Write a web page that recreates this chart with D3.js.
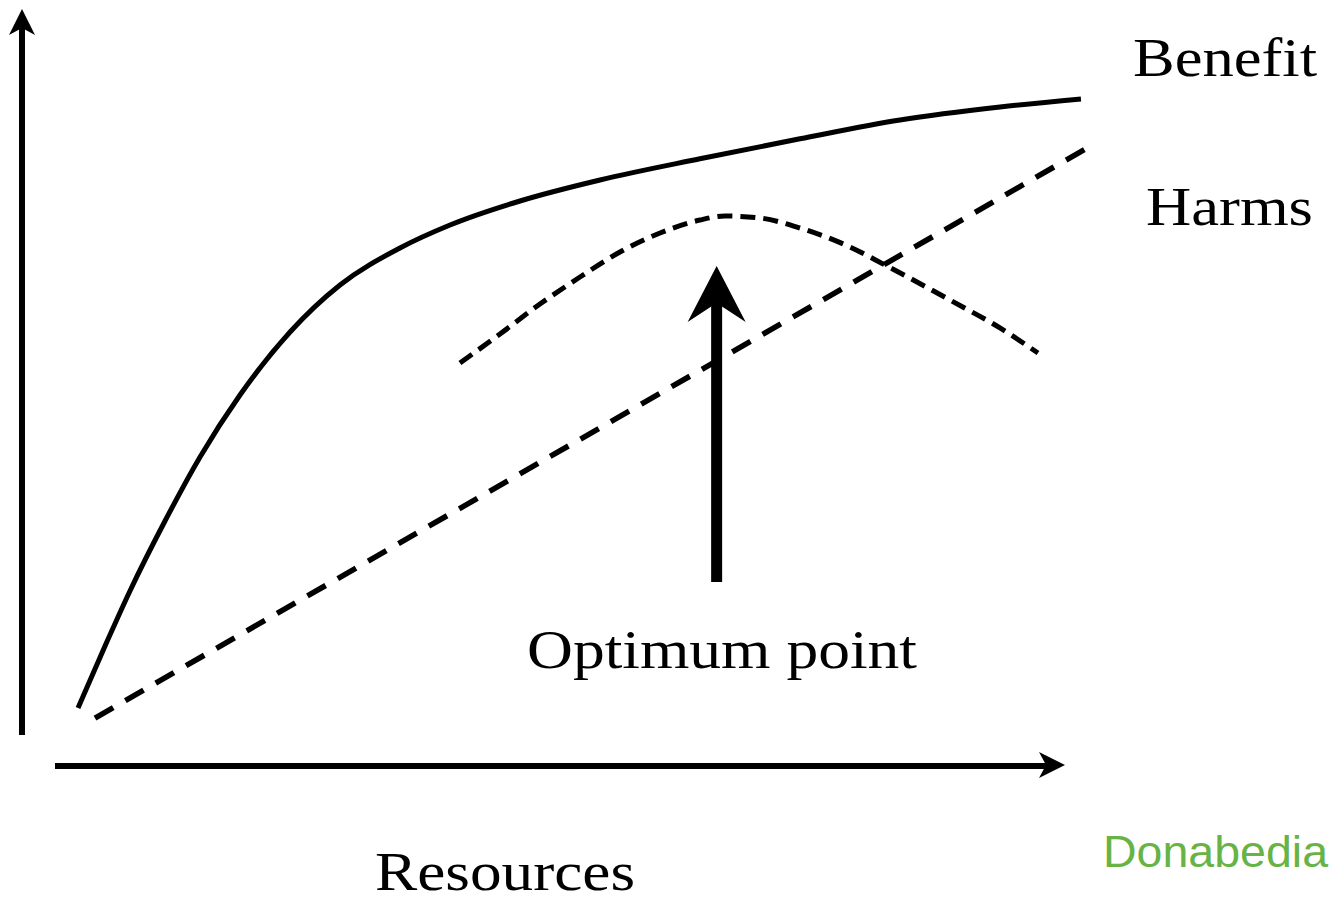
<!DOCTYPE html>
<html>
<head>
<meta charset="utf-8">
<script src="https://cdn.jsdelivr.net/npm/d3@7"></script>
<style>
  html, body { margin: 0; padding: 0; background: #fff; }
  svg { display: block; }
</style>
</head>
<body>
<svg id="chart" width="1332" height="903"></svg>
<script>
// ---- data (x: resources 0-100, y: value 0-100) ----
const benefitX = [5.37, 7.96, 10.35, 13.71, 17.07, 20.90, 25.70, 30.49, 36.24, 41.04, 47.75, 55.42, 65.00, 74.59, 84.18, 93.77, 101.53];
const benefitY = [7.78, 15.96, 23.22, 32.45, 40.90, 49.08, 57.39, 63.59, 68.47, 71.50, 74.67, 77.44, 80.24, 82.88, 85.36, 87.07, 88.13];
const harmsX = [7.0, 102.11];
const harmsY = [6.46, 81.66];
const netX = [41.99, 45.83, 49.66, 53.50, 57.33, 61.17, 65.00, 67.40, 70.76, 74.59, 79.39, 82.74, 88.97, 93.77, 97.41];
const netY = [53.30, 57.12, 61.08, 64.64, 67.94, 70.45, 72.16, 72.69, 72.43, 71.11, 68.60, 66.23, 61.61, 57.92, 54.62];
const optimumX = [66.6];
const optimumY = [24.41, 66.09];
const labels = ["Benefit", "Harms", "Optimum point", "Resources"];
const watermark = "Donabedia";

const svg = d3.select("#chart");
const x = d3.scaleLinear().domain([0, 100]).range([22, 1065]);
const y = d3.scaleLinear().domain([0, 100]).range([767, 9]);

const smooth = d3.line().x(d => x(d[0])).y(d => y(d[1])).curve(d3.curveMonotoneX);

// axes
const x0 = x(0), y0 = y(0);
svg.append("line").attr("x1", x0).attr("x2", x0).attr("y1", 735).attr("y2", y(100) + 18)
  .attr("stroke", "#000").attr("stroke-width", 6);
svg.append("path")
  .attr("d", `M${x0},${y(100)} L${x0 + 13},${y(100) + 26} L${x0},${y(100) + 19} L${x0 - 13},${y(100) + 26} Z`)
  .attr("fill", "#000");
svg.append("line").attr("x1", 55).attr("x2", x(100) - 18).attr("y1", y0 - 1).attr("y2", y0 - 1)
  .attr("stroke", "#000").attr("stroke-width", 6);
svg.append("path")
  .attr("d", `M${x(100)},${y0 - 2} L${x(100) - 26},${y0 - 15} L${x(100) - 19},${y0 - 2} L${x(100) - 26},${y0 + 11} Z`)
  .attr("fill", "#000");

// benefit curve
svg.append("path").datum(benefitX.map((v, i) => [v, benefitY[i]]))
  .attr("d", smooth).attr("fill", "none").attr("stroke", "#000").attr("stroke-width", 5);

// harms line
svg.append("path").datum(harmsX.map((v, i) => [v, harmsY[i]]))
  .attr("d", smooth).attr("fill", "none").attr("stroke", "#000").attr("stroke-width", 5.5)
  .attr("stroke-dasharray", "21,14");

// net curve
svg.append("path").datum(netX.map((v, i) => [v, netY[i]]))
  .attr("d", smooth).attr("fill", "none").attr("stroke", "#000").attr("stroke-width", 5)
  .attr("stroke-dasharray", "15,8");

// optimum arrow
const ax = x(optimumX[0]), ayB = y(optimumY[0]), ayT = y(optimumY[1]);
svg.append("line").attr("x1", ax).attr("x2", ax).attr("y1", ayB).attr("y2", ayT + 36)
  .attr("stroke", "#000").attr("stroke-width", 11);
svg.append("path")
  .attr("d", `M${ax},${ayT} L${ax + 29},${ayT + 56} L${ax},${ayT + 37} L${ax - 29},${ayT + 56} Z`)
  .attr("fill", "#000");

// labels
const serif = "'Liberation Serif', 'Times New Roman', serif";
const textSpecs = [
  { t: labels[0], x: 1133, y: 76, w: 184 },
  { t: labels[1], x: 1146, y: 225, w: 167 },
  { t: labels[2], x: 527, y: 668, w: 390 },
  { t: labels[3], x: 375, y: 890, w: 260 }
];
textSpecs.forEach(s => {
  svg.append("text").attr("x", s.x).attr("y", s.y)
    .attr("font-family", serif).attr("font-size", 55).attr("fill", "#000")
    .attr("textLength", s.w).attr("lengthAdjust", "spacingAndGlyphs")
    .text(s.t);
});
svg.append("text").attr("x", 1103).attr("y", 867)
  .attr("font-family", "'Liberation Sans', Arial, sans-serif").attr("font-size", 45)
  .attr("fill", "#67b346").attr("textLength", 225).attr("lengthAdjust", "spacingAndGlyphs")
  .text(watermark);
</script>
</body>
</html>
